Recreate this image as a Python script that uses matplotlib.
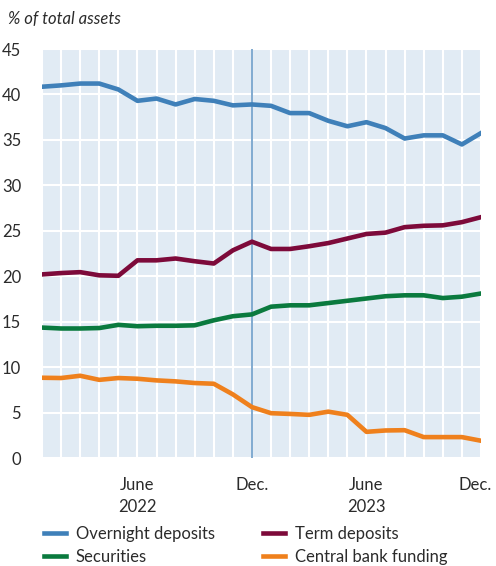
import numpy as np
import matplotlib
matplotlib.use("Agg")
import matplotlib.pyplot as plt
import matplotlib.transforms as mtransforms

# Monthly data, Jan 2022 - Dec 2023 (% of total assets)
months = list(range(24))
overnight = [40.85, 41.0, 41.2, 41.2, 40.55, 39.3, 39.55, 38.9, 39.5, 39.3, 38.8, 38.9,
             38.75, 37.95, 37.95, 37.1, 36.5, 36.95, 36.3, 35.15, 35.5, 35.5, 34.5, 35.75]
term = [20.2, 20.35, 20.45, 20.1, 20.05, 21.75, 21.75, 21.95, 21.65, 21.4, 22.85, 23.8,
        23.0, 23.0, 23.3, 23.65, 24.15, 24.65, 24.8, 25.4, 25.55, 25.6, 25.95, 26.5]
securities = [14.35, 14.25, 14.25, 14.3, 14.65, 14.5, 14.55, 14.55, 14.6, 15.15, 15.6, 15.8,
              16.65, 16.8, 16.8, 17.05, 17.3, 17.55, 17.8, 17.9, 17.9, 17.6, 17.75, 18.1]
cb_funding = [8.83, 8.8, 9.05, 8.6, 8.8, 8.72, 8.54, 8.43, 8.25, 8.17, 7.0, 5.6,
              4.93, 4.85, 4.75, 5.1, 4.75, 2.88, 3.03, 3.06, 2.3, 2.3, 2.3, 1.9]

tick_pos = [5, 11, 17, 23]
tick_labels = ["June\n2022", "Dec.", "June\n2023", "Dec."]

plt.rcParams['font.family'] = ['Lato', 'DejaVu Sans']
text_col = '#2b2b2b'

fig = plt.figure(figsize=(4.96, 5.66), dpi=100)
ax = fig.add_axes([0.0847, 0.1908, 0.885, 0.7226])
ax.set_facecolor('#e1ebf4')

ax.plot(months, overnight, color='#3f80b9', lw=3.3, label='Overnight deposits', zorder=3)
ax.plot(months, term, color='#7d0a3a', lw=3.3, label='Term deposits', zorder=3)
ax.plot(months, securities, color='#0a7a3e', lw=3.3, label='Securities', zorder=3)
ax.plot(months, cb_funding, color='#ef801c', lw=3.3, label='Central bank funding', zorder=3)

ax.axvline(11, color='#6b9cc8', lw=1.2, zorder=2)

ax.set_xlim(0, 23)
ax.set_ylim(0, 45)
ax.set_yticks(range(0, 46, 5))
ax.set_xticks(months, minor=True)
ax.set_xticks(tick_pos)
ax.set_xticklabels(tick_labels)
ax.grid(True, which='both', color='white', lw=1.5, zorder=1)
ax.set_axisbelow(True)
ax.tick_params(which='both', length=0, labelsize=12, colors=text_col)
ax.tick_params(axis='y', pad=15)
ax.tick_params(axis='x', pad=14)
for lab in ax.get_xticklabels():
    lab.set_linespacing(1.45)
# nudge the last "Dec." left so it stays inside the figure
last = ax.get_xticklabels()[-1]
last.set_transform(last.get_transform() +
                   mtransforms.ScaledTranslation(-4 / 72, 0, fig.dpi_scale_trans))
for s in ax.spines.values():
    s.set_visible(False)

fig.text(0.016, 0.966, '% of total assets', style='italic', fontsize=12,
         color=text_col, va='center')

# legend: ncol fills by column, so reorder to get rows Overnight/Term, Securities/CB
handles, labels = ax.get_legend_handles_labels()
order = [0, 2, 1, 3]
leg = fig.legend([handles[i] for i in order], [labels[i] for i in order],
                 loc='upper left', bbox_to_anchor=(0.075, 0.083), ncol=2,
                 frameon=False, fontsize=12, handlelength=1.3, handletextpad=0.6,
                 columnspacing=2.9, labelspacing=0.45, borderaxespad=0)
for t in leg.get_texts():
    t.set_color(text_col)

fig.savefig('out.png', dpi=100)
